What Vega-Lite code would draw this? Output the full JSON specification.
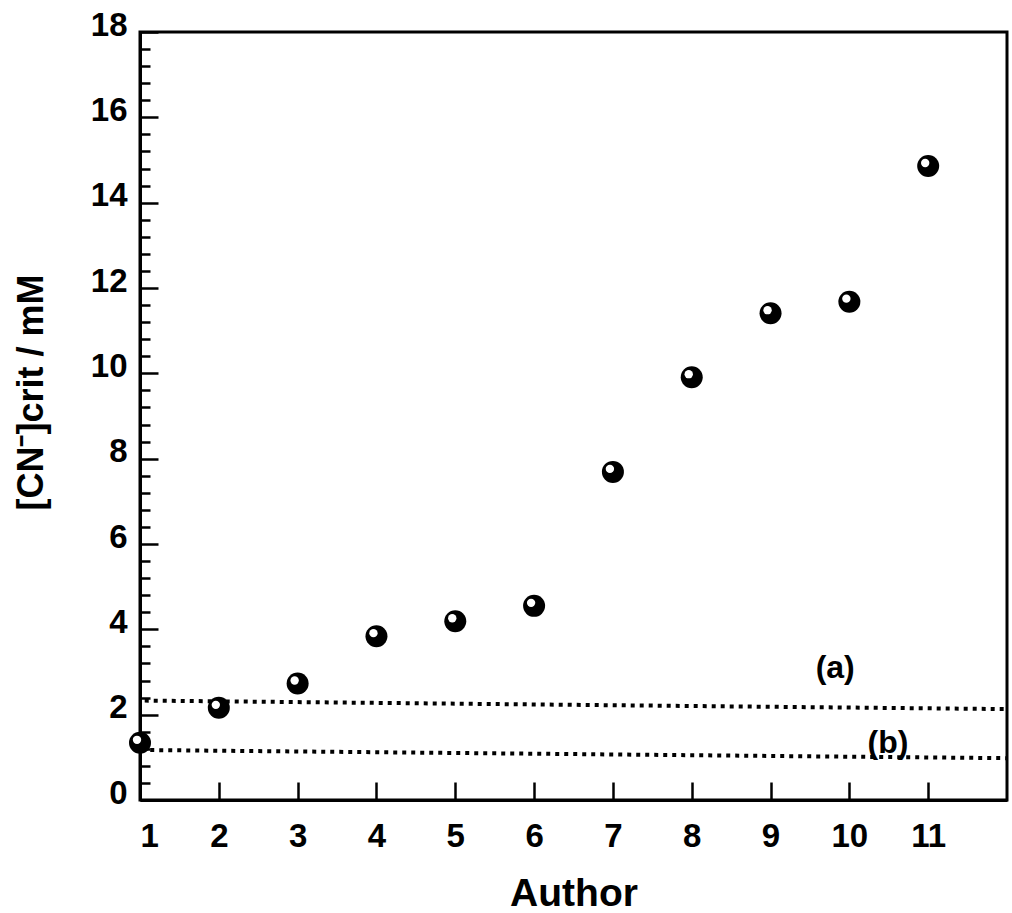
{
  "$schema": "https://vega.github.io/schema/vega-lite/v6.json",
  "width": 867,
  "height": 768,
  "autosize": {"type": "none"},
  "padding": {"left": 140, "top": 32, "right": 5, "bottom": 113},
  "background": "white",
  "config": {
    "view": {"stroke": "black", "strokeWidth": 3},
    "axis": {
      "domainColor": "black", "domainWidth": 3, "tickColor": "black", "tickWidth": 2.5,
      "labelFont": "Liberation Sans", "labelFontWeight": "bold", "labelColor": "black",
      "titleFont": "Liberation Sans", "titleFontWeight": "bold", "titleColor": "black",
      "grid": false
    }
  },
  "datasets": {
    "points": [
      {"author": 1, "cn": 1.34}, {"author": 2, "cn": 2.16}, {"author": 3, "cn": 2.73},
      {"author": 4, "cn": 3.84}, {"author": 5, "cn": 4.19}, {"author": 6, "cn": 4.55},
      {"author": 7, "cn": 7.69}, {"author": 8, "cn": 9.91}, {"author": 9, "cn": 11.41},
      {"author": 10, "cn": 11.68}, {"author": 11, "cn": 14.86}
    ],
    "lines": [
      {"line": "a", "author": 1.06, "cn": 2.33}, {"line": "a", "author": 12, "cn": 2.13},
      {"line": "b", "author": 1.13, "cn": 1.17}, {"line": "b", "author": 12, "cn": 0.98}
    ],
    "labels": [
      {"label": "(a)", "author": 9.82, "cn": 3.09},
      {"label": "(b)", "author": 10.49, "cn": 1.34}
    ]
  },
  "encoding": {
    "x": {
      "field": "author", "type": "quantitative",
      "scale": {"domain": [1, 12], "nice": false, "zero": false},
      "axis": {
        "values": [1, 2, 3, 4, 5, 6, 7, 8, 9, 10, 11],
        "format": "d",
        "tickSize": -18, "labelPadding": 38, "labelFontSize": 33,
        "labelFont": "Liberation Sans", "labelFontWeight": "bold",
        "title": "Author", "titleFontSize": 39, "titleY": 105, "titleBaseline": "alphabetic"
      }
    }
  },
  "resolve": {"axis": {"y": "independent"}},
  "layer": [
    {
      "data": {"name": "lines"},
      "mark": {"type": "line", "strokeDash": [4, 5], "strokeWidth": 4, "color": "black"},
      "encoding": {
        "y": {
          "field": "cn", "type": "quantitative",
          "scale": {"domain": [0, 18], "nice": false},
          "axis": {
            "orient": "left",
            "values": [0, 2, 4, 6, 8, 10, 12, 14, 16, 18],
            "format": "d", "tickSize": -18, "labelOverlap": false,
            "labelPadding": 31, "labelFontSize": 33, "labelOffset": -7,
            "labelFont": "Liberation Sans", "labelFontWeight": "bold",
            "title": "[CN⁻]crit / mM", "titleFontSize": 36,
            "titleX": -109, "titleY": 360, "titleBaseline": "middle", "titleAlign": "center", "titleAngle": -90
          }
        },
        "detail": {"field": "line"}
      }
    },
    {
      "data": {"name": "points"},
      "mark": {"type": "point", "filled": true, "shape": "circle", "size": 484, "color": "black", "opacity": 1},
      "encoding": {
        "y": {
          "field": "cn", "type": "quantitative",
          "axis": {"orient": "left", "values": [0.4, 0.8, 1.2, 1.6, 2.4, 2.8, 3.2, 3.6, 4.4, 4.8, 5.2, 5.6],
                   "tickSize": -10, "labels": false, "domain": false, "title": null}
        }
      }
    },
    {
      "data": {"name": "points"},
      "mark": {"type": "point", "filled": true, "shape": "circle", "size": 70, "color": "white", "opacity": 1, "xOffset": -3, "yOffset": -3},
      "encoding": {
        "y": {
          "field": "cn", "type": "quantitative",
          "axis": {"orient": "left", "values": [6.4, 6.8, 7.2, 7.6, 8.4, 8.8, 9.2, 9.6, 10.4, 10.8, 11.2, 11.6],
                   "tickSize": -10, "labels": false, "domain": false, "title": null}
        }
      }
    },
    {
      "data": {"name": "labels"},
      "mark": {"type": "text", "font": "Liberation Sans", "fontWeight": "bold", "fontSize": 32, "color": "black"},
      "encoding": {
        "y": {
          "field": "cn", "type": "quantitative",
          "axis": {"orient": "left", "values": [12.4, 12.8, 13.2, 13.6, 14.4, 14.8, 15.2, 15.6, 16.4, 16.8, 17.2, 17.6],
                   "tickSize": -10, "labels": false, "domain": false, "title": null}
        },
        "text": {"field": "label"}
      }
    }
  ]
}
